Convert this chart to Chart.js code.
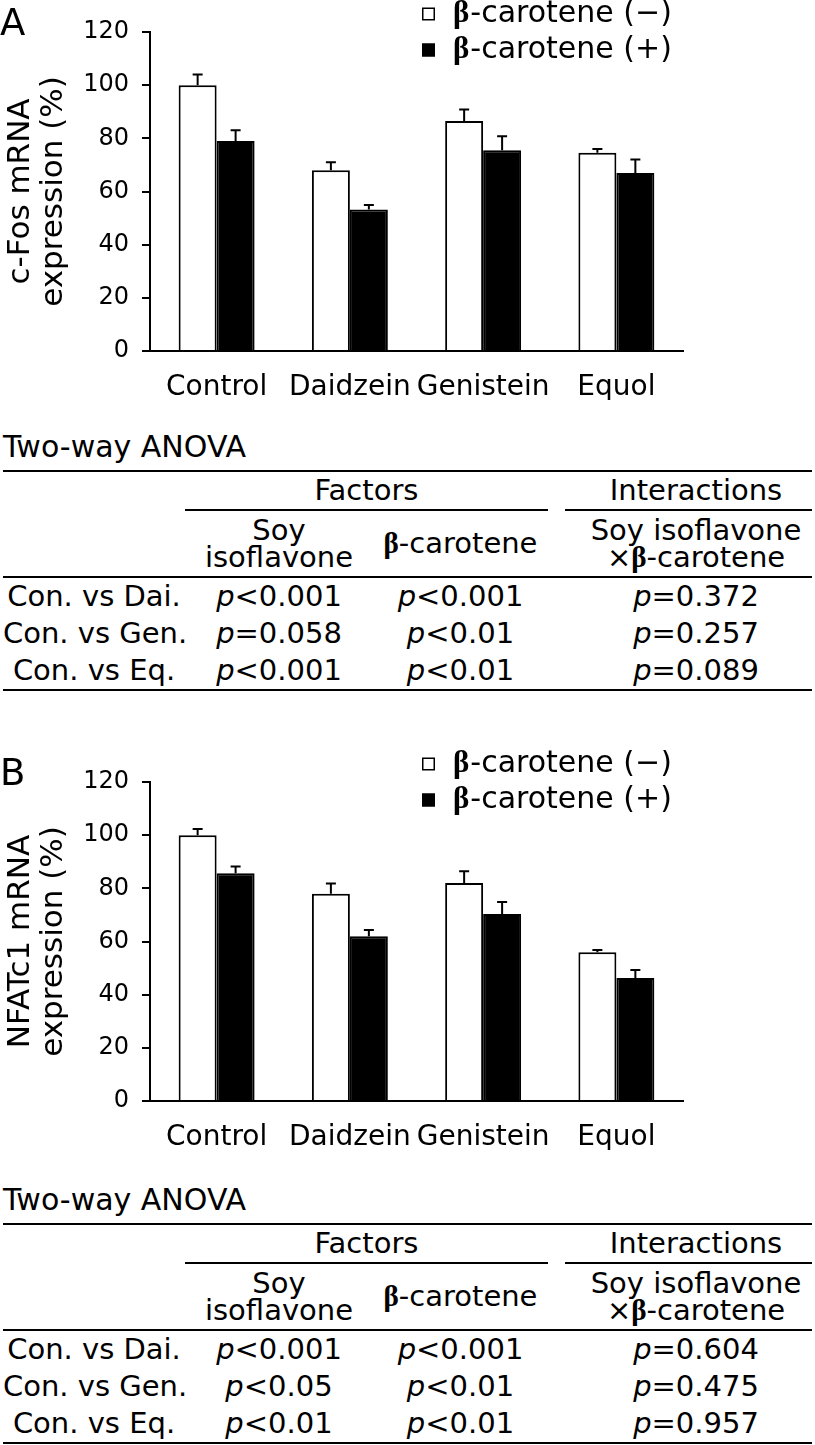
<!DOCTYPE html>
<html>
<head>
<meta charset="utf-8">
<script src="https://cdn.jsdelivr.net/npm/chart.js@4.4.0/dist/chart.umd.min.js"></script>
<style>
  body { margin: 0; background: #fff; color: #000; font-family: 'DejaVu Sans', sans-serif; }
  #page { position: relative; width: 815px; height: 1445px; overflow: hidden; }
  .panel { position: absolute; left: 0; width: 815px; height: 700px; }
  .panel canvas { position: absolute; left: 0; top: 0; }
  .panel-label { position: absolute; left: 0; top: 4px; font-size: 37px; line-height: 37px; }
  .anova-wrap { position: absolute; left: 0; width: 815px; }
  .anova-title { position: absolute; left: 3px; top: 430px; font-size: 30px; line-height: 34px; white-space: nowrap; }
  table.anova { position: absolute; left: 3px; top: 470px; width: 809px; border-collapse: collapse; table-layout: fixed;
    font-size: 29px; border-top: 2px solid #000; border-bottom: 2px solid #000; }
  table.anova td { padding: 0; text-align: center; vertical-align: middle; line-height: 27px; white-space: nowrap; }
  tr.grp-row td { height: 37px; }
  tr.grp-row td.grp { border-bottom: 2px solid #000; }
  tr.head-row td { height: 65px; border-bottom: 2px solid #000; }
  tr.data td { height: 37px; }
  td.inter { padding-left: 15px !important; }
  .beta { font-family: 'Liberation Serif', serif; font-weight: bold; }
</style>
</head>
<body>
<div id="page">
  <div class="panel" id="panel-a" style="top:0px;">
    <canvas id="chart-a" width="815" height="400"></canvas>
    <div class="panel-label">A</div>
    <div class="anova-wrap" id="anova-a" style="top:0px;"></div>
  </div>
  <div class="panel" id="panel-b" style="top:750px;">
    <canvas id="chart-b" width="815" height="400"></canvas>
    <div class="panel-label">B</div>
    <div class="anova-wrap" id="anova-b" style="top:3px;"></div>
  </div>
</div>
<script>
const categories = ['Control', 'Daidzein', 'Genistein', 'Equol'];
const seriesLabels = ['β-carotene (−)', 'β-carotene (+)'];
const yTicks = [0, 20, 40, 60, 80, 100, 120];

// A: c-Fos
const cfosMinus = [100, 68, 86.5, 74.6];
const cfosMinusErr = [4, 3, 4.3, 1.4];
const cfosPlus = [79, 53.2, 75.5, 67];
const cfosPlusErr = [4, 1.7, 5.3, 5];

// B: NFATc1
const nfatMinus = [100, 78, 82, 56];
const nfatMinusErr = [2.3, 3.8, 4.4, 0.8];
const nfatPlus = [85.7, 62, 70.3, 46.3];
const nfatPlusErr = [2.5, 2.3, 4.6, 3];

// two-way ANOVA tables
const comparisons = ['Con. vs Dai.', 'Con. vs Gen.', 'Con. vs Eq.'];
const anovaSoyA = ['<0.001', '=0.058', '<0.001'];
const anovaBetaA = ['<0.001', '<0.01', '<0.01'];
const anovaInterA = ['=0.372', '=0.257', '=0.089'];
const anovaSoyB = ['<0.001', '<0.05', '<0.01'];
const anovaBetaB = ['<0.001', '<0.01', '<0.01'];
const anovaInterB = ['=0.604', '=0.475', '=0.957'];

Chart.defaults.font.family = "'DejaVu Sans', sans-serif";
Chart.defaults.color = '#000';

const errorBarPlugin = {
  id: 'errorBars',
  afterDatasetsDraw(chart) {
    const ctx = chart.ctx;
    const yScale = chart.scales.y;
    chart.data.datasets.forEach((ds, i) => {
      const meta = chart.getDatasetMeta(i);
      meta.data.forEach((bar, j) => {
        const top = yScale.getPixelForValue(ds.data[j] + ds.errors[j]);
        ctx.save();
        ctx.strokeStyle = '#000';
        ctx.lineWidth = 2;
        ctx.beginPath();
        ctx.moveTo(bar.x, bar.y);
        ctx.lineTo(bar.x, top);
        ctx.moveTo(bar.x - 5, top);
        ctx.lineTo(bar.x + 5, top);
        ctx.stroke();
        ctx.restore();
      });
    });
  }
};

const cornerLegendPlugin = {
  id: 'cornerLegend',
  afterDraw(chart) {
    const ctx = chart.ctx;
    chart.data.datasets.forEach((ds, i) => {
      const y = 14 + i * 36;
      ctx.save();
      ctx.fillStyle = ds.backgroundColor;
      ctx.fillRect(422, y - 6.5, 13, 13);
      ctx.strokeStyle = '#000';
      ctx.lineWidth = 1.5;
      ctx.strokeRect(422.75, y - 5.75, 11.5, 11.5);
      ctx.fillStyle = '#000';
      ctx.textBaseline = 'middle';
      ctx.font = "bold 31px 'Liberation Serif'";
      ctx.fillText(ds.label[0], 453, y);
      const w = ctx.measureText(ds.label[0]).width;
      ctx.font = "30px 'DejaVu Sans'";
      ctx.fillText(ds.label.slice(1), 453 + w + 1, y);
      ctx.restore();
    });
  }
};

function renderBarChart(canvasId, titleLines, minus, minusErr, plus, plusErr) {
  const ctx = document.getElementById(canvasId).getContext('2d');
  return new Chart(ctx, {
    type: 'bar',
    data: {
      labels: categories,
      datasets: [
        { label: seriesLabels[0], data: minus, errors: minusErr, backgroundColor: '#fff', borderColor: '#000', borderWidth: 2 },
        { label: seriesLabels[1], data: plus, errors: plusErr, backgroundColor: '#000', borderColor: '#000', borderWidth: 2 }
      ]
    },
    options: {
      responsive: false,
      animation: false,
      events: [],
      categoryPercentage: 0.57,
      barPercentage: 1.0,
      layout: { padding: { top: 32, right: 132, left: 0, bottom: 0 } },
      plugins: { legend: { display: false }, tooltip: { enabled: false } },
      scales: {
        x: {
          grid: { display: false },
          border: { display: true, color: '#000', width: 2 },
          ticks: { font: { size: 28 }, padding: 12, color: '#000', autoSkip: false, maxRotation: 0, minRotation: 0 },
          afterFit(scale) { scale.height = 49; }
        },
        y: {
          min: 0,
          max: 120,
          afterBuildTicks(scale) { scale.ticks = yTicks.map(v => ({ value: v })); },
          grid: { drawOnChartArea: false, drawTicks: true, tickLength: 8, color: '#000', lineWidth: 2 },
          border: { display: true, color: '#000', width: 2 },
          ticks: { font: { size: 24 }, padding: 13, color: '#000' },
          title: { display: true, text: titleLines, font: { size: 31, lineHeight: 1.07 }, color: '#000', padding: { top: 4, bottom: 0 } },
          afterFit(scale) { scale.width = 150; }
        }
      }
    },
    plugins: [errorBarPlugin, cornerLegendPlugin]
  });
}

function pval(s) {
  return '<i>p</i>' + s.replace('<', '&lt;');
}

function renderAnovaTable(wrapId, soy, beta, inter) {
  const rows = comparisons.map((c, i) => `
      <tr class="data">
        <td>${c}</td><td>${pval(soy[i])}</td><td>${pval(beta[i])}</td><td></td><td class="inter">${pval(inter[i])}</td>
      </tr>`).join('');
  const html = `
    <div class="anova-title">Two-way ANOVA</div>
    <table class="anova">
      <colgroup><col style="width:182px"><col style="width:188px"><col style="width:175px"><col style="width:17px"><col style="width:247px"></colgroup>
      <tr class="grp-row"><td></td><td colspan="2" class="grp">Factors</td><td></td><td class="grp inter">Interactions</td></tr>
      <tr class="head-row"><td></td><td>Soy<br>isoflavone</td><td><span class="beta">β</span>-carotene</td><td></td>
        <td class="inter">Soy isoflavone<br>×<span class="beta">β</span>-carotene</td></tr>
      ${rows}
    </table>`;
  document.getElementById(wrapId).innerHTML = html;
}

renderBarChart('chart-a', ['c-Fos mRNA', 'expression (%)'], cfosMinus, cfosMinusErr, cfosPlus, cfosPlusErr);
renderBarChart('chart-b', ['NFATc1 mRNA', 'expression (%)'], nfatMinus, nfatMinusErr, nfatPlus, nfatPlusErr);
renderAnovaTable('anova-a', anovaSoyA, anovaBetaA, anovaInterA);
renderAnovaTable('anova-b', anovaSoyB, anovaBetaB, anovaInterB);
</script>
</body>
</html>
